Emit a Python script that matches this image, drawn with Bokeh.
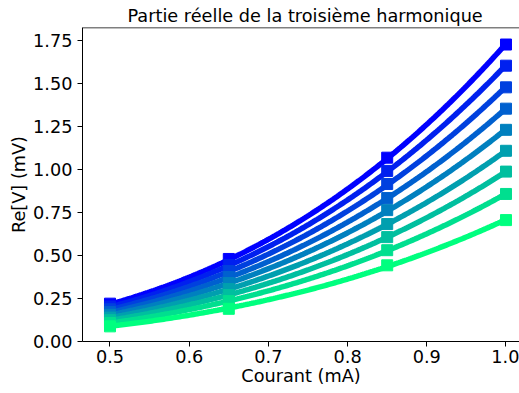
import numpy as np
from bokeh.plotting import figure
from bokeh.models import FixedTicker, PrintfTickFormatter, Range1d, Span
from bokeh.embed import file_html
from bokeh.resources import INLINE

# Data
courant = [0.5, 0.65, 0.85, 1.0]
serie_1 = [0.220, 0.480, 1.069, 1.727]
serie_2 = [0.203, 0.445, 0.992, 1.604]
serie_3 = [0.187, 0.410, 0.916, 1.478]
serie_4 = [0.171, 0.375, 0.834, 1.354]
serie_5 = [0.155, 0.340, 0.764, 1.231]
serie_6 = [0.139, 0.305, 0.683, 1.109]
serie_7 = [0.124, 0.270, 0.607, 0.988]
serie_8 = [0.107, 0.235, 0.531, 0.858]
serie_9 = [0.088, 0.190, 0.443, 0.706]
series = [serie_1, serie_2, serie_3, serie_4, serie_5, serie_6, serie_7, serie_8, serie_9]
colors = ["#0000ff", "#0020ef", "#0040df", "#0060cf", "#0080bf",
          "#009faf", "#00bf9f", "#00df8f", "#00ff7f"]

y_ticks = [0.0, 0.25, 0.5, 0.75, 1.0, 1.25, 1.5, 1.75]
x_ticks = [0.5, 0.6, 0.7, 0.8, 0.9, 1.0]
y_top = 1.826

FONT = "DejaVu Sans"
FS = "17.7px"

p = figure(width=519, height=393, output_backend="svg", toolbar_location=None,
           x_range=Range1d(0.46528, 1.01705), y_range=Range1d(0, y_top),
           min_border_left=82, min_border_right=0, min_border_top=27, min_border_bottom=52)

p.title.text = "Partie réelle de la troisième harmonique"
p.title.text_font = FONT
p.title.text_font_size = FS
p.title.text_font_style = "normal"
p.title.text_color = "black"
p.title.align = "left"
p.title.offset = 45
p.title.standoff = 4

p.grid.visible = False
p.outline_line_color = None
p.background_fill_color = "white"
p.border_fill_color = "white"

for ax in [p.xaxis[0], p.yaxis[0]]:
    ax.axis_line_color = "black"
    ax.axis_line_width = 1
    ax.major_tick_line_color = "black"
    ax.major_tick_out = 5
    ax.major_tick_in = 0
    ax.minor_tick_out = 0
    ax.minor_tick_in = 0
    ax.major_label_text_font = FONT
    ax.major_label_text_font_size = FS
    ax.major_label_text_color = "black"
    ax.axis_label_text_font = FONT
    ax.axis_label_text_font_size = FS
    ax.axis_label_text_font_style = "normal"
    ax.axis_label_text_color = "black"

p.xaxis[0].ticker = FixedTicker(ticks=x_ticks)
p.xaxis[0].formatter = PrintfTickFormatter(format="%.1f")
p.xaxis[0].axis_label = "Courant (mA)"
p.xaxis[0].major_label_standoff = 3
p.xaxis[0].axis_label_standoff = 0
p.yaxis[0].ticker = FixedTicker(ticks=y_ticks)
p.yaxis[0].formatter = PrintfTickFormatter(format="%.2f")
p.yaxis[0].axis_label = "Re[V] (mV)"
p.yaxis[0].major_label_standoff = 5
p.yaxis[0].axis_label_standoff = 1

# top spine
p.add_layout(Span(location=y_top, dimension="width", line_color="black", line_width=1.5))

x_arr = np.array(courant)
xs = np.linspace(min(courant), max(courant), 200)
for vals, col in zip(series, colors):
    y_arr = np.array(vals)
    c = np.sum(x_arr**3 * y_arr) / np.sum(x_arr**6)
    p.line(xs, c * xs**3, line_color=col, line_width=5.5)
    p.scatter(courant, vals, marker="square", size=11, fill_color=col, line_color=col)

open("out.html", "w").write(file_html(p, INLINE))
